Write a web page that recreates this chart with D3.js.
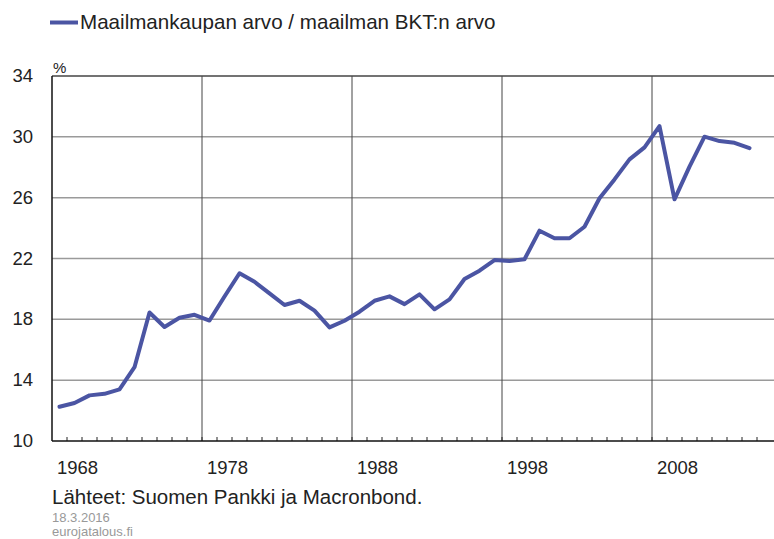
<!DOCTYPE html>
<html>
<head>
<meta charset="utf-8">
<script src="https://cdn.jsdelivr.net/npm/d3@7"></script>
<style>
  body { margin: 0; background: #fff; }
  svg text { font-family: "Liberation Sans", Arial, sans-serif; }
</style>
</head>
<body>
<script>
const years = d3.range(1968, 2015)
const axisYears = d3.range(1968, 2016)
const values = [12.25, 12.5, 13.0, 13.1, 13.4, 14.85, 18.45, 17.5, 18.1, 18.3,
    17.92, 19.5, 21.03, 20.47, 19.71, 18.94, 19.22, 18.57, 17.47, 17.91,
    18.5, 19.22, 19.51, 19.0, 19.64, 18.66, 19.31, 20.65, 21.2, 21.9,
    21.83, 21.95, 23.83, 23.33, 23.33, 24.09, 25.96, 27.2, 28.52, 29.31,
    30.71, 25.89, 28.04, 30.01, 29.72, 29.61, 29.26]
const yTicks = [10, 14, 18, 22, 26, 30, 34]
const xLabels = [1968, 1978, 1988, 1998, 2008]

const seriesName = "Maailmankaupan arvo / maailman BKT:n arvo"
const lineColor = "#4b55a3"

const width = 774
const height = 539
const plotLeft = 52, plotRight = 772, plotTop = 76, plotBottom = 441

const svg = d3.select("body").append("svg")
    .attr("width", width)
    .attr("height", height)

const x = d3.scaleBand()
    .domain(axisYears)
    .range([plotLeft, plotRight])
    .padding(0)

const y = d3.scaleLinear()
    .domain([10, 34])
    .range([plotBottom, plotTop])

// horizontal grid
svg.append("g")
    .selectAll("line")
    .data(yTicks.filter(t => t > 10 && t < 34))
    .enter().append("line")
    .attr("x1", plotLeft)
    .attr("x2", plotRight + 2)
    .attr("y1", d => y(d))
    .attr("y2", d => y(d))
    .attr("stroke", "#9a9a9a")
    .attr("stroke-width", 1.5)

// vertical grid at decade starts
svg.append("g")
    .selectAll("line")
    .data(xLabels.slice(1))
    .enter().append("line")
    .attr("x1", d => x(d))
    .attr("x2", d => x(d))
    .attr("y1", plotTop)
    .attr("y2", plotBottom)
    .attr("stroke", "#444")
    .attr("stroke-width", 1)

// top line
svg.append("line")
    .attr("x1", plotLeft).attr("x2", plotRight + 2)
    .attr("y1", y(34)).attr("y2", y(34))
    .attr("stroke", "#444").attr("stroke-width", 1.5)

// year ticks
svg.append("g")
    .selectAll("line")
    .data(axisYears.slice(1))
    .enter().append("line")
    .attr("x1", d => x(d))
    .attr("x2", d => x(d))
    .attr("y1", plotBottom)
    .attr("y2", plotBottom - 4)
    .attr("stroke", "#222")
    .attr("stroke-width", 1)

// axes lines
svg.append("line")
    .attr("x1", plotLeft).attr("x2", plotLeft)
    .attr("y1", plotTop).attr("y2", plotBottom)
    .attr("stroke", "#111").attr("stroke-width", 1.5)
svg.append("line")
    .attr("x1", plotLeft).attr("x2", plotRight + 2)
    .attr("y1", plotBottom).attr("y2", plotBottom)
    .attr("stroke", "#111").attr("stroke-width", 1.5)

// y labels
svg.append("g")
    .selectAll("text")
    .data(yTicks)
    .enter().append("text")
    .attr("x", 33)
    .attr("y", d => y(d) + 6)
    .attr("text-anchor", "end")
    .attr("font-size", 18.5)
    .attr("fill", "#222")
    .text(d => d)

svg.append("text")
    .attr("x", 53)
    .attr("y", 73)
    .attr("font-size", 15)
    .attr("fill", "#222")
    .text("%")

// x labels
svg.append("g")
    .selectAll("text")
    .data(xLabels)
    .enter().append("text")
    .attr("x", d => x(d) + 5)
    .attr("y", 474)
    .attr("font-size", 18.5)
    .attr("fill", "#222")
    .text(d => d)

// series
const line = d3.line()
    .x((d, i) => x(years[i]) + x.bandwidth() / 2)
    .y(d => y(d))

svg.append("path")
    .datum(values)
    .attr("d", line)
    .attr("fill", "none")
    .attr("stroke", lineColor)
    .attr("stroke-width", 4)
    .attr("stroke-linejoin", "round")
    .attr("stroke-linecap", "round")

// legend
svg.append("line")
    .attr("x1", 50).attr("x2", 78)
    .attr("y1", 22.5).attr("y2", 22.5)
    .attr("stroke", lineColor).attr("stroke-width", 4)
svg.append("text")
    .attr("x", 80)
    .attr("y", 29)
    .attr("font-size", 20.6)
    .attr("fill", "#222")
    .text(seriesName)

// footer
svg.append("text")
    .attr("x", 52)
    .attr("y", 504)
    .attr("font-size", 20.5)
    .attr("fill", "#222")
    .text("Lähteet: Suomen Pankki ja Macronbond.")
svg.append("text")
    .attr("x", 52)
    .attr("y", 522)
    .attr("font-size", 13)
    .attr("fill", "#999")
    .text("18.3.2016")
svg.append("text")
    .attr("x", 52)
    .attr("y", 536)
    .attr("font-size", 13)
    .attr("fill", "#999")
    .text("eurojatalous.fi")
</script>
</body>
</html>
